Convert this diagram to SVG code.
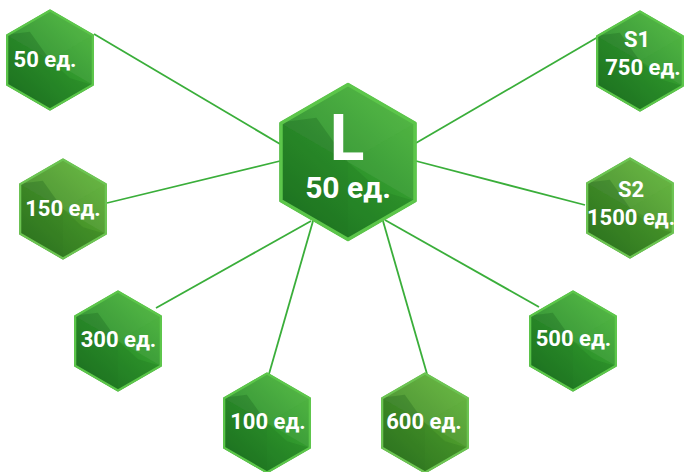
<svg xmlns="http://www.w3.org/2000/svg" xmlns:xlink="http://www.w3.org/1999/xlink" width="684" height="472" viewBox="0 0 684 472">
<style>
.lbl{font-family:Roboto,"Liberation Sans","Noto Sans",sans-serif;font-weight:700;fill:#ffffff;text-anchor:middle}
.s{font-size:22px}
.conn line{stroke:#3aae3a;stroke-width:1.8}
</style>
<defs>
<linearGradient id="gA" x1="0.8" y1="0.1" x2="0.2" y2="0.9">
<stop offset="0" stop-color="#45b036"/>
<stop offset="0.5" stop-color="#2f962c"/>
<stop offset="1" stop-color="#217c24"/>
</linearGradient>
<linearGradient id="gB" x1="0.8" y1="0.1" x2="0.2" y2="0.9">
<stop offset="0" stop-color="#5caf34"/>
<stop offset="0.5" stop-color="#48962a"/>
<stop offset="1" stop-color="#357e22"/>
</linearGradient>
<g id="facets">
<polygon points="0,0 -43.3,-25 0,-50 43.3,-25" fill="#ffffff" opacity="0.07"/>
<polygon points="0,0 -43.3,-25 -43.3,25 0,50" fill="#0a4a10" opacity="0.16"/>
<polygon points="0,0 -43.3,-25 -20,-28" fill="#0a4a10" opacity="0.22"/>
<polygon points="0,0 43.3,-25 43.3,25" fill="#ffffff" opacity="0.06"/>
<polygon points="0,0 0,50 43.3,25 20,18" fill="#0a4a10" opacity="0.12"/>
</g>
<g id="hexA">
<polygon points="0,-50 43.3,-25 43.3,25 0,50 -43.3,25 -43.3,-25" fill="url(#gA)"/>
<use xlink:href="#facets"/>
<polygon points="0,-49 42.4,-24.5 42.4,24.5 0,49 -42.4,24.5 -42.4,-24.5" fill="none" stroke="#5cc64a" stroke-width="2.2" stroke-linejoin="round"/>
</g>
<g id="hexB">
<polygon points="0,-50 43.3,-25 43.3,25 0,50 -43.3,25 -43.3,-25" fill="url(#gB)"/>
<use xlink:href="#facets"/>
<polygon points="0,-49 42.4,-24.5 42.4,24.5 0,49 -42.4,24.5 -42.4,-24.5" fill="none" stroke="#6cc452" stroke-width="2.2" stroke-linejoin="round"/>
</g>
</defs>
<rect width="684" height="472" fill="#ffffff"/>
<g id="connectors" class="conn">
<line x1="94" y1="34" x2="280" y2="144"/>
<line x1="107" y1="203" x2="280" y2="161"/>
<line x1="156" y1="308" x2="311" y2="221"/>
<line x1="269" y1="374" x2="313" y2="221"/>
<line x1="427" y1="374" x2="383" y2="221"/>
<line x1="539" y1="307" x2="385" y2="220"/>
<line x1="585" y1="205" x2="416" y2="161"/>
<line x1="598" y1="37" x2="416" y2="143"/>
</g>
<g id="node-center">
<use xlink:href="#hexA" transform="translate(348,162) scale(1.58)"/>
<text class="lbl" x="347" y="160" font-size="64">L</text>
<text class="lbl" x="348" y="198" font-size="30">50 ед.</text>
</g>
<g id="node-50">
<use xlink:href="#hexA" transform="translate(50,60) scale(1.01)"/>
<text class="lbl s" x="45" y="67">50 ед.</text>
</g>
<g id="node-150">
<use xlink:href="#hexB" transform="translate(63,209) scale(1.01)"/>
<text class="lbl s" x="63" y="216">150 ед.</text>
</g>
<g id="node-300">
<use xlink:href="#hexA" transform="translate(118,341) scale(1.01)"/>
<text class="lbl s" x="118.5" y="347">300 ед.</text>
</g>
<g id="node-100">
<use xlink:href="#hexA" transform="translate(267,423) scale(1.01)"/>
<text class="lbl s" x="268" y="429">100 ед.</text>
</g>
<g id="node-600">
<use xlink:href="#hexB" transform="translate(425,423) scale(1.01)"/>
<text class="lbl s" x="424" y="429">600 ед.</text>
</g>
<g id="node-500">
<use xlink:href="#hexA" transform="translate(573,341) scale(1.01)"/>
<text class="lbl s" x="573.5" y="346">500 ед.</text>
</g>
<g id="node-S1">
<use xlink:href="#hexA" transform="translate(640,61) scale(1.01)"/>
<text class="lbl s" x="637" y="47">S1</text>
<text class="lbl s" x="643" y="75">750 ед.</text>
</g>
<g id="node-S2">
<use xlink:href="#hexB" transform="translate(630,208) scale(1.01)"/>
<text class="lbl s" x="631" y="197">S2</text>
<text class="lbl s" x="631" y="225">1500 ед.</text>
</g>
</svg>
